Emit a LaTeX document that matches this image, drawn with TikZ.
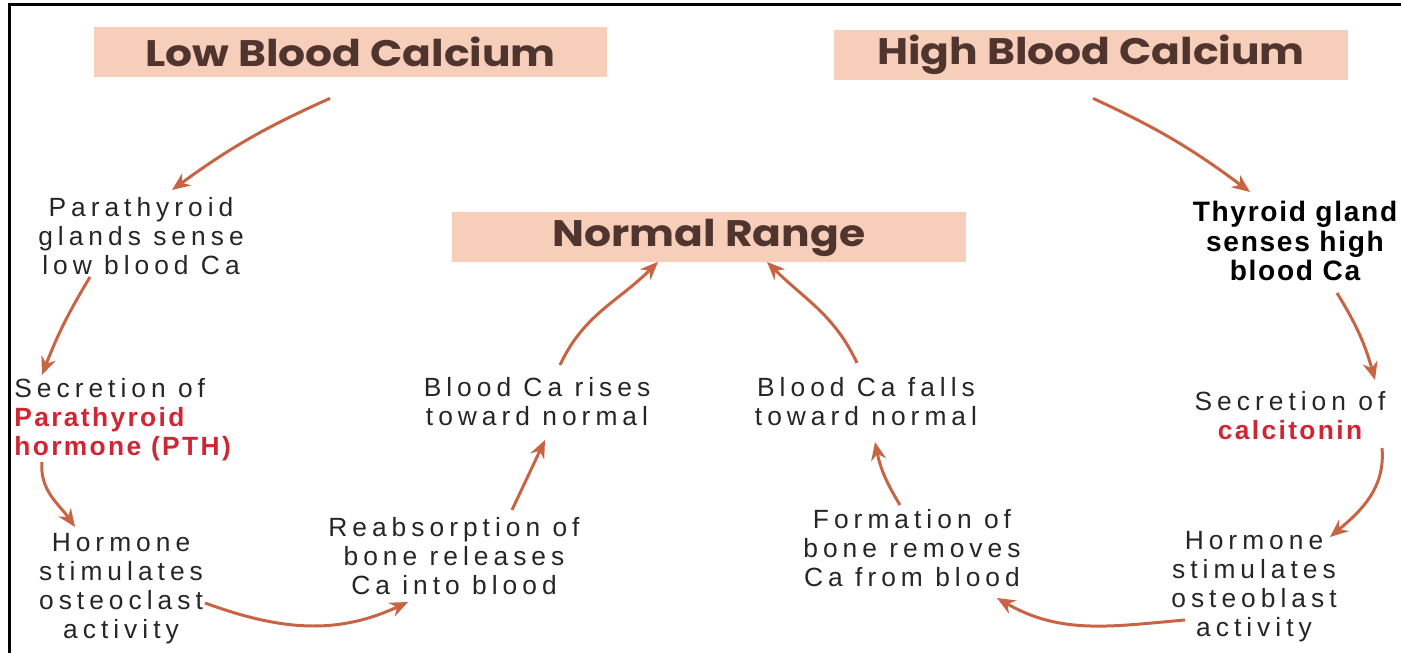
\documentclass[tikz,border=0pt]{standalone}
\usepackage{fontspec}
\usepackage{tikz}
\usetikzlibrary{arrows.meta,positioning}

\newfontfamily\bodyfont{Liberation Sans}[LetterSpace=19]
\newfontfamily\hormfont{Liberation Sans}[LetterSpace=9]
\newfontfamily\glandfont{Liberation Sans}[LetterSpace=6]
\newfontfamily\titlefont{Poppins}[FakeStretch=1.15]

\definecolor{boxpink}{RGB}{246,206,186}
\definecolor{titlebrown}{RGB}{80,52,46}
\definecolor{arrowbrown}{RGB}{200,100,68}
\definecolor{hormred}{RGB}{208,38,52}
\definecolor{textgray}{RGB}{38,38,38}

\begin{document}
\begin{tikzpicture}[
  titlebox/.style={fill=boxpink, minimum width=10.27cm, minimum height=1cm,
    inner sep=0pt, text=titlebrown, font=\titlefont\bfseries\fontsize{21}{25}\selectfont},
  stage/.style={align=center, inner sep=0pt, text=textgray,
    font=\bodyfont\fontsize{15}{16.5}\selectfont},
  arr/.style={-{Stealth[length=3.6mm,width=3mm]}, line width=1.7pt, draw=arrowbrown}]
\useasboundingbox (0,0) rectangle (28.02,-13.06);

% frame (top and left edge only)
\draw[line width=0.06cm] (0.2,-13.06) |- (28.02,-0.1);

% Title boxes
\node[titlebox] (low) at (7.01,-1.04) {Low Blood Calcium};
\node[titlebox] (high) at (21.82,-1.10) {High Blood Calcium};
\node[titlebox] (normal) at (14.18,-4.75) {Normal Range};

% Low calcium loop
\node[stage] (para) at (2.82,-4.72) {Parathyroid\\glands sense\\low blood Ca};
\node[stage, align=left, anchor=west] (secpth) at (0.28,-8.40)
  {Secretion of\\\textcolor{hormred}{\hormfont\bfseries Parathyroid}\\\textcolor{hormred}{\hormfont\bfseries hormone (PTH)}};
\node[stage] (clast) at (2.42,-11.78) {Hormone\\stimulates\\osteoclast\\activity};
\node[stage] (reabs) at (9.08,-11.12) {Reabsorption of\\bone releases\\Ca into blood};
\node[stage] (rise) at (10.74,-8.03) {Blood Ca rises\\toward normal};

% High calcium loop
\node[stage, text=black, font=\glandfont\bfseries\fontsize{16}{17}\selectfont] (thyroid) at (25.90,-4.82)
  {Thyroid gland\\senses high\\blood Ca};
\node[stage] (seccal) at (25.80,-8.32) {Secretion of\\\textcolor{hormred}{\hormfont\bfseries calcitonin}};
\node[stage] (blast) at (25.08,-11.73) {Hormone\\stimulates\\osteoblast\\activity};
\node[stage] (formation) at (18.24,-10.96) {Formation of\\bone removes\\Ca from blood};
\node[stage] (fall) at (17.32,-8.04) {Blood Ca falls\\toward normal};

% Arrows, low side
\draw[arr] ([shift={(-0.41,-0.42)}]low.south) to[bend right=6] ([shift={(0.62,0.92)}]para.center);
\draw[arr] ([shift={(-1.02,-0.82)}]para.center) to[bend right=5] ([shift={(0.56,0.90)}]secpth.west);
\draw[arr] ([shift={(0.56,-0.84)}]secpth.west) to[out=-95,in=125] ([shift={(-0.92,1.24)}]clast.center);
\draw[arr] ([shift={(1.68,-0.28)}]clast.center) to[out=-20,in=205] ([shift={(-0.92,-0.92)}]reabs.center);
\draw[arr] ([shift={(1.16,0.92)}]reabs.center) -- ([shift={(0.16,-0.77)}]rise.center);
\draw[arr] ([shift={(0.46,0.73)}]rise.center) to[out=65,in=225] ([shift={(-1.02,0.02)}]normal.south);

% Arrows, high side
\draw[arr] ([shift={(0.04,-0.36)}]high.south) to[bend left=6] ([shift={(-0.90,0.98)}]thyroid.center);
\draw[arr] ([shift={(0.84,-1.04)}]thyroid.center) to[bend left=8] ([shift={(1.70,0.72)}]seccal.center);
\draw[arr] ([shift={(1.84,-0.64)}]seccal.center) to[out=-85,in=40] ([shift={(1.52,0.99)}]blast.center);
\draw[arr] ([shift={(-1.38,-0.67)}]blast.center) to[out=185,in=-30] ([shift={(1.70,-1.00)}]formation.center);
\draw[arr] ([shift={(-0.24,0.86)}]formation.center) to[bend left=10] ([shift={(0.18,-0.80)}]fall.center);
\draw[arr] ([shift={(-0.18,0.78)}]fall.center) to[out=115,in=-45] ([shift={(1.16,0.02)}]normal.south);
\end{tikzpicture}
\end{document}
